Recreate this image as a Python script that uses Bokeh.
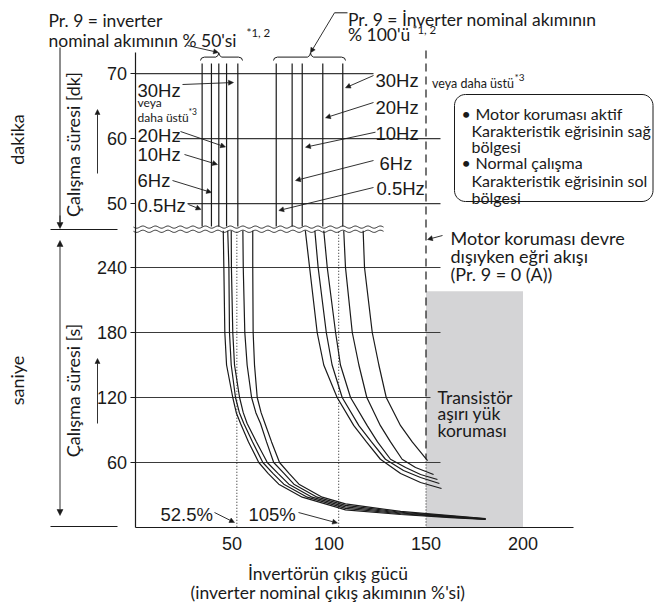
import numpy as np
from bokeh.plotting import figure
from bokeh.models import Range1d, LinearAxis, FixedTicker, Arrow, NormalHead
from bokeh.core.properties import value
from bokeh.embed import file_html
from bokeh.resources import INLINE

# ---------------- data ----------------
x_ticks = [50, 100, 150, 200]          # inverter output, % of rated current
sec_ticks = [60, 120, 180, 240]        # operation time [s]
min_ticks = [50, 60, 70]               # operation time [min]

# seconds region, Pr.9 = 50 % family (left -> right)
L_levels = [274, 240, 180, 150, 120, 106, 96, 79, 60, 50, 40, 28]
L1_x = [45.5, 45.8, 46.3, 47.2, 50.4, 52.2, 54.4, 58.5, 63.8, 68.6, 74.1, 86.2]
L2_x = [47.8, 48.4, 48.7, 49.6, 51.8, 53.8, 56.1, 60.6, 65.9, 71.1, 76.7, 88.8]
L3_x = [49.6, 49.7, 50.4, 51.3, 53.9, 55.8, 57.8, 62.6, 68.2, 73.7, 79.3, 91.3]
L4_x = [55.6, 55.8, 56.6, 57.8, 60.1, 62.3, 64.7, 67.8, 71.5, 76.8, 81.9, 93.9]
L5_x = [60.7, 60.7, 60.9, 61.6, 63.0, 65.0, 67.0, 70.4, 74.5, 79.4, 84.5, 96.5]
L_tail_x = [108.5, 136.9, 162.6, 180.7]
L1_tail = [16.3, 12.0, 9.2, 7.4]
L2_tail = [17.7, 12.7, 9.6, 7.6]
L3_tail = [19.0, 13.4, 10.1, 7.8]
L4_tail = [20.4, 14.1, 10.5, 8.1]
L5_tail = [21.8, 14.8, 11.0, 8.3]

# seconds region, Pr.9 = 100 % family
R_levels = [274, 240, 180, 150, 120, 94, 79, 63]
R1_x = [87.8, 90.0, 93.9, 97.3, 104.2, 112.8, 119.3, 126.5]
R2_x = [92.7, 94.4, 98.6, 101.6, 106.8, 115.4, 121.9, 129.1]
R3_x = [97.3, 99.1, 103.4, 105.9, 111.1, 119.7, 125.0, 131.7]
R4_x = [107.6, 108.5, 112.0, 115.4, 119.5, 126.5, 131.7, 137.7]
R5_x = [117.6, 118.3, 122.3, 125.7, 129.5, 136.9, 142.9]
R1_tail_x, R1_tail_y = [136.9, 147.2, 158.0], [49.8, 41.5, 36.0]
R2_tail_x, R2_tail_y = [138.4, 147.2, 156.9], [52.6, 46.2, 40.6]
R3_tail_x, R3_tail_y = [139.5, 147.2, 155.9], [55.4, 48.9, 44.3]
R4_tail_x, R4_tail_y = [144.6, 153.9], [55.4, 48.9]
R5_tail_x, R5_tail_y = [150.8], [61.8]

# minutes region: vertical lines (0.5, 6, 10, 20, 30 Hz)
min_lines_50 = [34.6, 39.4, 43.2, 47.2, 53.0]
min_lines_100 = [72.8, 81.0, 86.2, 96.8, 107.1]
min_bottom, min_top = 46.47, 71.55

pct_marks = [52.5, 105]        # dotted reference lines
off_curve_x = 150              # motor protection off
trans_box = (150, 200, 0, 218) # transistor overload protection zone
# --------------------------------------

INK = "#1a1a1a"
GRID = "#3a3a3a"
SANS = "Lato"
ARIAL = "Liberation Sans"

W, H = 654, 603
p = figure(width=W, height=H, output_backend="svg", toolbar_location=None,
           x_range=Range1d(-134.5 / 1.94, (W - 134.5) / 1.94),
           y_range=Range1d((527.0 - H) / 1.08333, 527.0 / 1.08333),
           x_axis_location=None, y_axis_location=None, min_border=0)
p.outline_line_color = None
p.grid.visible = False
p.background_fill_color = "white"
p.border_fill_color = "white"


def ux(X):
    return (np.asarray(X, float) - 134.5) / 1.94


def uy(Y):
    return (527.0 - np.asarray(Y, float)) / 1.08333


def mv(m):
    return 275 + (m - 46) * 6


def txt(xs, ys, texts, font=SANS, size="17.5px", align="left", baseline="alphabetic", angle=0):
    p.text(x=list(np.atleast_1d(xs)), y=list(np.atleast_1d(ys)), text=list(texts),
           text_font=value(font), text_font_size=size, text_align=align,
           text_baseline=baseline, angle=angle, text_color=INK)


def head(size=6):
    return NormalHead(size=size, fill_color=INK, line_color=INK, line_width=0.5)


def arrow(X0, Y0, X1, Y1, both=False, size=6):
    p.add_layout(Arrow(x_start=float(ux(X0)), y_start=float(uy(Y0)),
                       x_end=float(ux(X1)), y_end=float(uy(Y1)),
                       line_color=INK, line_width=0.9, end=head(size),
                       start=head(size) if both else None))


# transistor overload zone
p.quad(left=[trans_box[0]], right=[trans_box[1]], bottom=[trans_box[2]], top=[trans_box[3]],
       fill_color="#d4d4d6", line_color=None)

# horizontal grid lines
xr = float(ux(440))
p.segment(x0=[0, float(ux(176)), float(ux(187))], x1=[float(ux(373)), xr, xr],
          y0=[mv(m) for m in [70, 60, 50]], y1=[mv(m) for m in [70, 60, 50]],
          line_color=GRID, line_width=1.1)
p.segment(x0=[0, 0, 0, 0], x1=[xr, xr, float(ux(430)), xr],
          y0=sec_ticks[::-1], y1=sec_ticks[::-1], line_color=GRID, line_width=1.1)

# 150 % line (motor protection off)
p.line([off_curve_x, off_curve_x], [float(uy(50)), 63.7], line_color=INK, line_width=1.2,
       line_dash="8 5")
p.line([off_curve_x, off_curve_x], [63.7, 0], line_color=INK, line_width=1.0, line_dash="1 2")

# dotted reference lines
for xm in pct_marks:
    p.line([xm, xm], [273, 0], line_color=INK, line_width=1.0, line_dash="1 2")

# minutes region vertical lines
allx = min_lines_50 + min_lines_100
p.segment(x0=allx, x1=allx, y0=[mv(min_bottom)] * len(allx), y1=[mv(min_top)] * len(allx),
          line_color=INK, line_width=1.2)

# seconds region curves
for lx, lt in [(L1_x, L1_tail), (L2_x, L2_tail), (L3_x, L3_tail), (L4_x, L4_tail), (L5_x, L5_tail)]:
    p.line(lx + L_tail_x, L_levels + lt, line_color=INK, line_width=1.2)
for rx, tx, ty in [(R1_x, R1_tail_x, R1_tail_y), (R2_x, R2_tail_x, R2_tail_y),
                   (R3_x, R3_tail_x, R3_tail_y), (R4_x, R4_tail_x, R4_tail_y),
                   (R5_x, R5_tail_x, R5_tail_y)]:
    p.line(rx + tx, R_levels[:len(rx)] + ty, line_color=INK, line_width=1.2)

# axis break (double wavy line)
Xw = np.linspace(133, 383, 300)
for Y0 in (226.6, 230.8):
    Yw = Y0 + 1.1 * np.sin(2 * np.pi * (Xw - 133) / 12.5)
    p.line(ux(Xw), uy(Yw), line_color=INK, line_width=0.9)

# axes
yticks = sec_ticks + [mv(m) for m in min_ticks]
yaxis = LinearAxis(fixed_location=0, ticker=FixedTicker(ticks=yticks),
                   major_label_overrides={mv(m): str(m) for m in min_ticks},
                   bounds=(0, float(uy(52))), axis_line_color=INK, axis_line_width=1.2,
                   major_tick_out=5, major_tick_in=0, minor_tick_out=0, minor_tick_in=0,
                   major_tick_line_color=INK, major_label_standoff=3,
                   major_label_text_font=ARIAL, major_label_text_font_size="18px",
                   major_label_text_color=INK)
p.add_layout(yaxis, "left")
xaxis = LinearAxis(fixed_location=0, ticker=FixedTicker(ticks=x_ticks),
                   bounds=(0, float(ux(573))), axis_line_color=INK, axis_line_width=1.2,
                   major_tick_out=0, major_tick_in=0, minor_tick_out=0, minor_tick_in=0,
                   major_label_standoff=9,
                   major_label_text_font=ARIAL, major_label_text_font_size="18px",
                   major_label_text_color=INK)
p.add_layout(xaxis, "below")

# braces
def polyline(pts, w=1.0):
    a = np.array(pts, float)
    p.line(ux(a[:, 0]), uy(a[:, 1]), line_color=INK, line_width=w)

for x0, tip, x1 in [(200, 218.3, 242), (273, 310, 345)]:
    polyline([(x0, 60), (x0 + 1, 57.6), (x0 + 4, 56.6), (tip - 3, 56.6), (tip - 0.8, 55),
              (tip, 52.3), (tip + 0.8, 55), (tip + 3, 56.6), (x1 - 4, 56.6), (x1 - 1, 57.6), (x1, 60)])

# rounded legend box
def rounded(X0, X1, Y0, Y1, r):
    t = np.linspace(0, np.pi / 2, 10)
    pts = []
    for cx, cy, a0 in [(X1 - r, Y0 + r, -np.pi / 2), (X1 - r, Y1 - r, 0),
                       (X0 + r, Y1 - r, np.pi / 2), (X0 + r, Y0 + r, np.pi)]:
        ang = a0 + t
        pts += list(zip(cx + r * np.cos(ang), cy + r * np.sin(ang)))
    pts.append(pts[0])
    return pts

polyline(rounded(454, 652.5, 94, 201, 11), w=1.0)

# left dimension lines
polyline([(50, 229), (117, 229)], w=1.0)
polyline([(50, 526), (117, 526)], w=1.0)
polyline([(59.5, 47), (59.5, 222)], w=1.0)
arrow(59.5, 215, 59.5, 228)
arrow(59.5, 240, 59.5, 515, both=True)
arrow(97, 173, 97, 109, size=5)
arrow(97, 423, 97, 358, size=5)

# leader arrows
for a in [(182, 84, 233, 82), (180, 131, 225, 146.5), (184, 154, 217, 164),
          (172, 180, 211, 192), (188, 204, 200.5, 209),
          (373, 75, 345, 87.3), (373, 102, 325, 117.3), (375, 131.7, 305, 146.7),
          (373, 160, 295, 180), (373, 187, 278.3, 210),
          (187, 45, 218, 52), (334, 12.3, 310, 52.3),
          (214, 512, 234, 522), (298, 512, 337, 522.5), (442, 235, 427, 239)]:
    arrow(*a, size=5)
polyline([(347, 12.3), (334, 12.3)])

# ---------- texts ----------
# rotated side labels
txt(ux([16, 16]), uy([139, 380]), ["dakika", "saniye"], align="center", baseline="middle",
    angle=np.pi / 2, size="18px")
txt(ux([72.5, 72.5]), uy([144, 390]), ["Çalışma süresi [dk]", "Çalışma süresi [s]"],
    align="center", baseline="middle", angle=np.pi / 2, size="18px")

# top notes
txt(ux([48, 48]), uy([19.5, 39.5]), ["Pr. 9 = inverter", "nominal akımının % 50'si"])
txt(ux([246]), uy([32]), ["*1, 2"], size="11.5px")
txt(ux([347.5, 347.5]), uy([18.5, 33.5]), ["Pr. 9 = İnverter nominal akımının", "% 100'ü"])
txt(ux([412]), uy([29]), ["*1, 2"], size="11.5px")

# frequency labels
hz = ["30Hz", "20Hz", "10Hz", "6Hz", "0.5Hz"]
txt(ux([137] * 5), uy([89.5, 134.5, 153.5, 180, 205]), hz, font=ARIAL, size="18.5px")
txt(ux([137, 137]), uy([102, 117]), ["veya", "daha üstü"], size="12px")
txt(ux([188]), uy([111]), ["*3"], size="8.5px")
txt(ux([375, 375, 375, 379, 376]), uy([79.5, 107, 132.5, 163, 188]), hz, font=ARIAL,
    size="18.5px")
txt(ux([431.5]), uy([83]), ["veya daha üstü"], size="12.5px")
txt(ux([514]), uy([76]), ["*3"], size="10px")

# legend box text
txt(ux([461, 461]), uy([113, 162]), ["•", "•"], size="16px")
txt(ux([475, 471, 471, 475, 471, 471]), uy([113, 130, 146, 162, 180, 197]),
    ["Motor koruması aktif", "Karakteristik eğrisinin sağ", "bölgesi",
     "Normal çalışma", "Karakteristik eğrisinin sol", "bölgesi"], size="16px")

txt(ux([450] * 3), uy([237, 255, 273]),
    ["Motor koruması devre", "dışıyken eğri akışı", "(Pr. 9 = 0 (A))"], size="18px")
txt(ux([437] * 3), uy([397, 413, 430]), ["Transistör", "aşırı yük", "koruması"], size="17.5px")

txt(ux([160, 248]), uy([513.5, 513.5]), ["52.5%", "105%"], font=ARIAL, size="18.5px")

txt(ux([327.5, 327.5]), uy([573, 592]),
    ["İnvertörün çıkış gücü", "(inverter nominal çıkış akımının %'si)"], align="center")

open("out.html", "w").write(file_html(p, INLINE))
